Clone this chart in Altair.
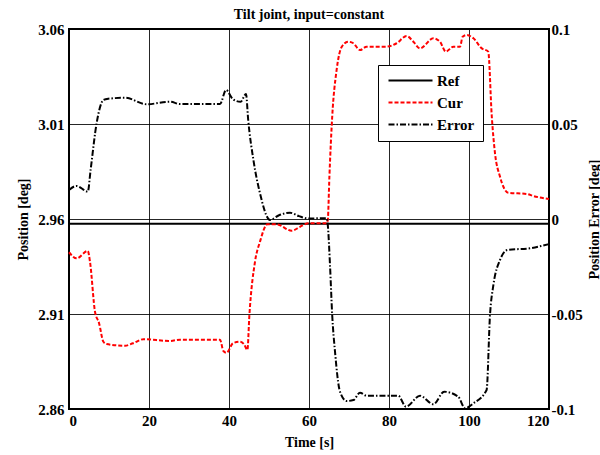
import altair as alt
import pandas as pd

# ---- data ----
ref_time = [0, 120]
ref_value = [2.9575, 2.9575]

cur_time = [0, 1.9, 4.7, 5.25, 6.5, 7.5, 8.6, 9.4, 14, 16,
            18.6, 25.25, 27.75, 37.75, 38.6, 39.4, 41, 42.75, 43.75, 44.6,
            45.1, 46.5, 47.75, 49.6, 51.9, 55.7, 57.75, 59.8, 64.4, 64.7,
            65.1, 65.8, 66.9, 68.2, 69.8, 71.1, 72.75, 74.4, 79.4, 81.9,
            84.4, 86.1, 87.75, 91.1, 92.75, 94.2, 96.1, 97.75, 98.4, 99.4,
            101.1, 103.2, 104.8, 105.7, 106.5, 107.75, 109.8, 114.4, 116.1, 120]
cur_value = [2.9425, 2.9393, 2.9432, 2.9375, 2.9112, 2.9053, 2.8954, 2.8942, 2.8933, 2.8946,
             2.8967, 2.8958, 2.8965, 2.8965, 2.8905, 2.8896, 2.8946, 2.8954, 2.8941, 2.8911,
             2.9095, 2.9375, 2.9481, 2.9572, 2.9572, 2.9538, 2.9559, 2.9577, 2.9577, 2.9595,
             2.9823, 3.0138, 3.0384, 3.0507, 3.0533, 3.0525, 3.0489, 3.0507, 3.0507, 3.0525,
             3.0563, 3.0533, 3.0498, 3.0551, 3.0533, 3.0481, 3.0507, 3.0507, 3.0559, 3.0568,
             3.0551, 3.0498, 3.0481, 3.0138, 2.9946, 2.9823, 2.9738, 2.9732, 2.9721, 2.9705]

err_time = [0, 1.9, 4.7, 5.4, 6.9, 8.6, 9.8, 14, 19.4, 25.25,
            27.75, 37.75, 39.25, 41, 42.9, 44.25, 44.8, 46.1, 47.75, 50.25,
            52.5, 55.25, 57.5, 59.8, 64.4, 64.7, 65.25, 65.8, 66.5, 67.75,
            69.4, 71.1, 72.75, 74.4, 82.3, 84.25, 87.75, 91.1, 93.8, 97.3,
            99, 101.1, 104.4, 105.25, 106.1, 107.75, 109.6, 115.25, 120]
err_value = [0.0153, 0.0174, 0.0144, 0.0258, 0.0504, 0.0626, 0.0633, 0.0638, 0.0604, 0.0617,
             0.0605, 0.0605, 0.0679, 0.0630, 0.0617, 0.0658, 0.0521, 0.0311, 0.0135, -0.0005,
             0.0020, 0.0033, 0.0015, 0.0003, 0.0004, -0.0032, -0.0242, -0.0505, -0.0698, -0.0909,
             -0.0958, -0.0953, -0.0914, -0.0930, -0.0930, -0.0988, -0.0930, -0.0975, -0.0909, -0.0935,
             -0.0996, -0.0970, -0.0900, -0.0505, -0.0347, -0.0216, -0.0163, -0.0154, -0.0132]

series_names = ["Ref", "Cur", "Error"]
x_ticks = [0, 20, 40, 60, 80, 100, 120]
left_ticks = [2.86, 2.91, 2.96, 3.01, 3.06]
right_ticks = [-0.1, -0.05, 0, 0.05, 0.1]

# ---- tables ----
left_df = pd.concat([
    pd.DataFrame({"t": ref_time, "v": ref_value, "series": "Ref", "o": range(len(ref_time))}),
    pd.DataFrame({"t": cur_time, "v": cur_value, "series": "Cur", "o": range(len(cur_time))}),
])
err_df = pd.DataFrame({"t": err_time, "e": err_value, "series": "Error", "o": range(len(err_time))})

FONT = "Liberation Serif"

color_scale = alt.Scale(domain=series_names, range=["#000000", "#ff0000", "#000000"])
dash_scale = alt.Scale(domain=series_names, range=[[1, 0], [4, 2], [6, 2, 1.5, 2]])

legend = alt.Legend(
    title=None, orient="none", legendX=309, legendY=36,
    symbolType="M-4,0H4", symbolSize=121, symbolStrokeWidth=2, symbolOffset=17,
    labelFont=FONT, labelFontSize=15, labelFontWeight="bold", labelColor="black",
    labelOffset=19, strokeColor="black", fillColor="white", padding=8, rowPadding=6,
)

x_enc = alt.X("t:Q", scale=alt.Scale(domain=[0, 120], nice=False, zero=False),
              axis=alt.Axis(values=x_ticks, title="Time [s]", grid=True,
                            titleX=240, titleY=37, titleBaseline="alphabetic",
                            labelPadding=4))

left = alt.Chart(left_df).mark_line(strokeWidth=2, interpolate="monotone").encode(
    x=x_enc,
    y=alt.Y("v:Q", scale=alt.Scale(domain=[2.86, 3.06], nice=False, zero=False),
            axis=alt.Axis(values=left_ticks, format=".2f", title="Position [deg]", grid=True,
                          titleAngle=270, titleX=-42, titleY=190, titleAlign="center",
                          titleBaseline="alphabetic", labelPadding=5)),
    color=alt.Color("series:N", scale=color_scale, legend=legend),
    strokeDash=alt.StrokeDash("series:N", scale=dash_scale, legend=legend),
    order="o:Q",
)

right = alt.Chart(err_df).mark_line(strokeWidth=2, interpolate="monotone").encode(
    x=x_enc,
    y=alt.Y("e:Q", scale=alt.Scale(domain=[-0.1, 0.1], nice=False, zero=False),
            axis=alt.Axis(values=right_ticks, orient="right", title="Position Error [deg]",
                          grid=False, labelPadding=2, format=".2~f",
                          labelExpr="replace(datum.label, '\u2212', '-')",
                          titleAngle=270, titleX=49, titleY=190, titleAlign="center",
                          titleBaseline="alphabetic")),
    color=alt.Color("series:N", scale=color_scale, legend=legend),
    strokeDash=alt.StrokeDash("series:N", scale=dash_scale, legend=legend),
    order="o:Q",
)

chart = alt.layer(left, right).resolve_scale(y="independent").properties(
    width=480, height=380,
    title=alt.TitleParams("Tilt joint, input=constant", font=FONT, fontSize=14,
                          fontWeight="bold", color="black", offset=0, anchor="middle"),
    autosize=alt.AutoSizeParams(type="none"),
    padding={"left": 69, "top": 29, "right": 51, "bottom": 46},
).configure_view(stroke="black", strokeWidth=2).configure_axis(
    domain=False, ticks=False,
    labelFont=FONT, labelFontSize=15, labelFontWeight="bold", labelColor="black",
    titleFont=FONT, titleFontSize=14, titleFontWeight="bold", titleColor="black",
    gridColor="#000000", gridOpacity=0.85, gridWidth=1,
)

chart.save("out.html", embed_options={"renderer": "svg", "actions": False})
